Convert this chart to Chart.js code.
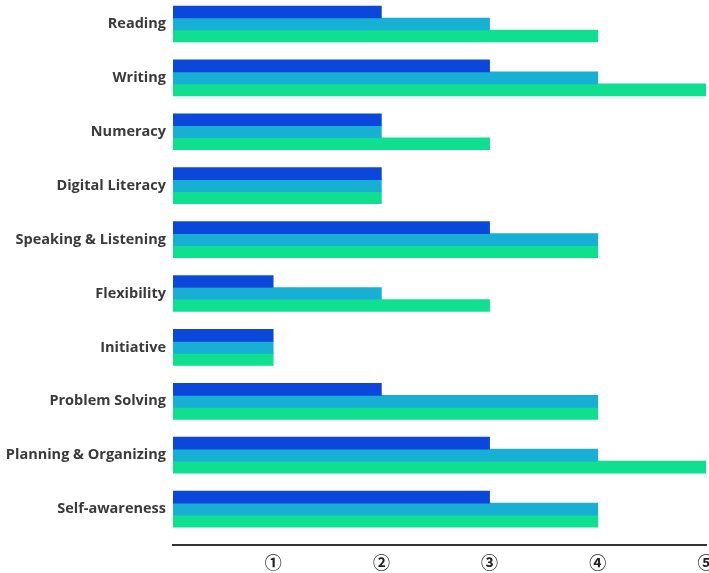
<!DOCTYPE html>
<html>
<head>
<meta charset="utf-8">
<script src="https://cdn.jsdelivr.net/npm/chart.js@4"></script>
<style>
  html, body { margin: 0; padding: 0; background: #fff; }
  #wrap { width: 709px; height: 573px; }
</style>
</head>
<body>
<div id="wrap"><canvas id="skillsChart"></canvas></div>
<script>
// skill ratings, three rounds per skill
const skills = [
  "Reading", "Writing", "Numeracy", "Digital Literacy", "Speaking & Listening",
  "Flexibility", "Initiative", "Problem Solving", "Planning & Organizing", "Self-awareness"
];
const round1 = [2, 3, 2, 2, 3, 1, 1, 2, 3, 3];
const round2 = [3, 4, 2, 2, 4, 2, 1, 4, 4, 4];
const round3 = [4, 5, 3, 2, 4, 3, 1, 4, 5, 4];
const levelTicks = [1, 2, 3, 4, 5];
const levelLabels = ["①", "②", "③", "④", "⑤"];

const colors = ["#0c47dc", "#17afd3", "#0fe08f"];

function toPoints(values) {
  return values.map((v, i) => ({ x: v, y: i }));
}

const ctx = document.getElementById("skillsChart").getContext("2d");

new Chart(ctx, {
  type: "bar",
  data: {
    datasets: [round1, round2, round3].map((series, i) => ({
      label: `Round ${i + 1}`,
      data: toPoints(series),
      backgroundColor: colors[i],
      borderWidth: 0,
      barThickness: 12
    }))
  },
  options: {
    indexAxis: "y",
    responsive: true,
    maintainAspectRatio: false,
    animation: false,
    layout: { padding: { left: 0, right: 3, top: 0, bottom: 0 } },
    plugins: {
      legend: { display: false },
      tooltip: { enabled: false }
    },
    scales: {
      y: {
        type: "linear",
        reverse: true,
        offset: false,
        min: -0.445,
        max: 9.666,
        grid: { display: false, drawTicks: false },
        border: { display: false },
        afterBuildTicks: scale => {
          scale.ticks = skills.map((_, i) => ({ value: i }));
        },
        afterFit: scale => {
          scale.width = 173;
          scale.paddingTop = 0;
          scale.paddingBottom = 0;
        },
        ticks: {
          padding: 7,
          color: "#3a3a3a",
          font: { family: "'Open Sans'", size: 14.5, weight: "700" },
          callback: v => skills[v]
        }
      },
      x: {
        type: "linear",
        min: 0.074,
        max: 5,
        grid: { display: false, drawTicks: false },
        border: { display: true, color: "#333", width: 2 },
        afterBuildTicks: scale => {
          scale.ticks = levelTicks.map(v => ({ value: v }));
        },
        afterFit: scale => {
          scale.height = 28;
          scale.paddingLeft = 0;
          scale.paddingRight = 0;
        },
        ticks: {
          padding: 7,
          color: "#222",
          maxRotation: 0,
          font: { family: "'Noto Sans CJK JP'", size: 17, weight: "700" },
          callback: v => levelLabels[levelTicks.indexOf(v)]
        }
      }
    }
  }
});
</script>
</body>
</html>
